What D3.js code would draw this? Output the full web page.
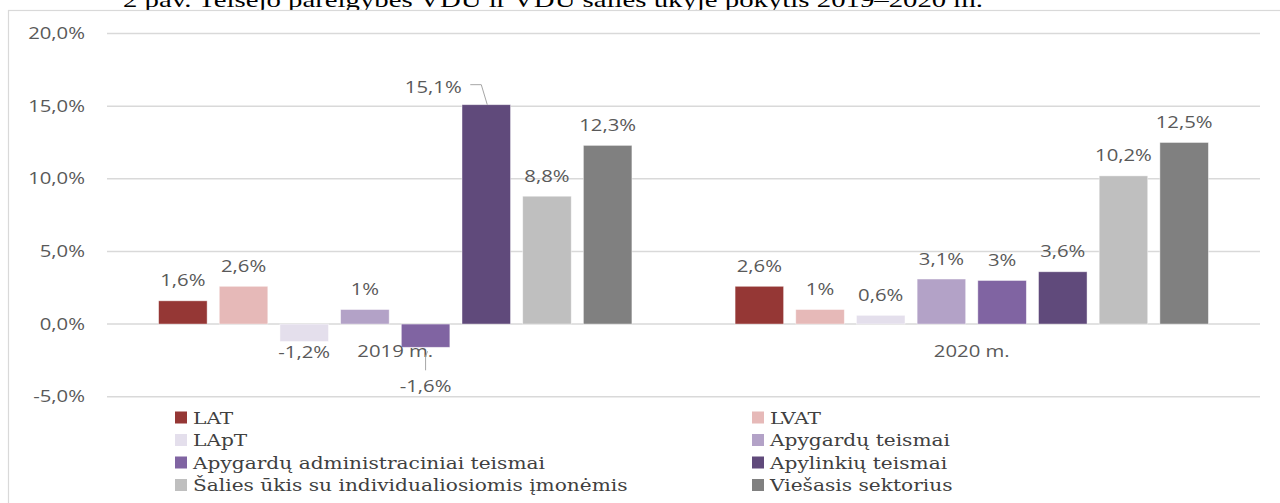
<!DOCTYPE html>
<html>
<head>
<meta charset="utf-8">
<script src="https://cdn.jsdelivr.net/npm/d3@7"></script>
<style>
  html, body { margin: 0; padding: 0; background: #fff; }
  svg { display: block; }
</style>
</head>
<body>
<svg id="chart" width="1280" height="503"></svg>
<script>
// ---- data ----
const titleText = "2 pav. Teisėjo pareigybės VDU ir VDU šalies ūkyje pokytis 2019–2020 m.";
const groups = ["2019 m.", "2020 m."];
const series = [
  "LAT",
  "LVAT",
  "LApT",
  "Apygardų teismai",
  "Apygardų administraciniai teismai",
  "Apylinkių teismai",
  "Šalies ūkis su individualiosiomis įmonėmis",
  "Viešasis sektorius"
];
const values2019 = [1.6, 2.6, -1.2, 1.0, -1.6, 15.1, 8.8, 12.3];
const values2020 = [2.6, 1.0, 0.6, 3.1, 3.0, 3.6, 10.2, 12.5];
const yTicks = [-5, 0, 5, 10, 15, 20];
const seriesColors = ["#953735", "#E6B9B8", "#E4DFEC", "#B3A2C7", "#8064A2", "#604A7B", "#BFBFBF", "#808080"];

// ---- layout ----
const SX = 1.27; // horizontal stretch of the reference's text
const svg = d3.select("#chart");
const plot = { left: 107, right: 1260, top: 33.5, bottom: 396.7 };

const x0 = d3.scaleBand().domain(groups).range([plot.left, plot.right]).paddingInner(0).paddingOuter(0);
const x1 = d3.scaleBand().domain(series).range([0, x0.bandwidth()]).paddingInner(0.2).paddingOuter(0.85);
const y = d3.scaleLinear().domain([-5, 20]).range([plot.bottom, plot.top]);

const rows = [];
groups.forEach((g, gi) => {
  const vals = gi === 0 ? values2019 : values2020;
  series.forEach((s, si) => rows.push({ group: g, gi, series: s, si, value: vals[si] }));
});

function stext(sel, x, yy, str, opt) {
  const g = sel.append("g").attr("transform", `translate(${x},${yy}) scale(${opt.sx || SX},1)`);
  const t = g.append("text")
    .attr("x", 0).attr("y", 0)
    .attr("text-anchor", opt.anchor || "start")
    .attr("font-family", opt.family || "'Open Sans', sans-serif")
    .attr("font-size", opt.size || 16)
    .attr("fill", opt.fill || "#595959")
    .text(str);
  return t;
}

// title (partly hidden above the chart frame)
svg.append("text")
  .attr("x", 123).attr("y", 7)
  .attr("font-family", "'Liberation Serif', 'Times New Roman', serif")
  .attr("font-size", 21)
  .attr("fill", "#000")
  .attr("textLength", 860)
  .attr("lengthAdjust", "spacingAndGlyphs")
  .text(titleText);

// chart frame
svg.append("rect")
  .attr("x", 8.5).attr("y", 10.5).attr("width", 1300).attr("height", 600)
  .attr("fill", "#fff").attr("stroke", "#d9d9d9").attr("stroke-width", 1.2);

// gridlines
svg.append("g").selectAll("line").data(yTicks).join("line")
  .attr("x1", plot.left).attr("x2", plot.right)
  .attr("y1", d => y(d)).attr("y2", d => y(d))
  .attr("stroke", "#d9d9d9").attr("stroke-width", 1.5);

// y axis labels
const fmtTick = d => d3.format(".1f")(d).replace(".", ",").replace("−", "-") + "%";
const yAxisG = svg.append("g");
yTicks.forEach(t => stext(yAxisG, 85, y(t) + 5.5, fmtTick(t), { anchor: "end", size: 16 }));

// bars
svg.append("g").selectAll("rect").data(rows).join("rect")
  .attr("x", d => x0(d.group) + x1(d.series))
  .attr("width", x1.bandwidth())
  .attr("y", d => Math.min(y(d.value), y(0)))
  .attr("height", d => Math.abs(y(d.value) - y(0)))
  .attr("fill", d => seriesColors[d.si])
  .attr("stroke", "#ffffff").attr("stroke-opacity", 0.55).attr("stroke-width", 0.8);

// category labels
const catG = svg.append("g");
groups.forEach(g => stext(catG, x0(g) + x0.bandwidth() / 2, 357, g, { anchor: "middle", size: 16 }));

// data labels
const fmtVal = v => (Number.isInteger(v) ? String(v) : d3.format(".1f")(v).replace("−", "-").replace(".", ",")) + "%";
const lblG = svg.append("g");
const leadG = svg.append("g").attr("fill", "none").attr("stroke", "#a6a6a6").attr("stroke-width", 1);
rows.forEach(d => {
  const cx = x0(d.group) + x1(d.series) + x1.bandwidth() / 2;
  const txt = fmtVal(d.value);
  if (d.gi === 0 && d.si === 5) {
    // label moved to the left with a leader line
    const top = y(d.value);
    const lx = cx - 53, ly = top - 12;
    stext(lblG, lx, ly, txt, { anchor: "middle", size: 16 });
    leadG.append("path").attr("d", `M${cx - 16},${top - 20} H${cx - 5} L${cx + 1},${top}`);
  } else if (d.gi === 0 && d.si === 4) {
    const bot = y(d.value);
    stext(lblG, cx, bot + 45, txt, { anchor: "middle", size: 16 });
    leadG.append("path").attr("d", `M${cx + 2},${bot + 4} L${cx},${bot + 9} V${bot + 23}`);
  } else if (d.value >= 0) {
    stext(lblG, cx, y(d.value) - 14.5, txt, { anchor: "middle", size: 16 });
  } else {
    stext(lblG, cx, y(d.value) + 17, txt, { anchor: "middle", size: 16 });
  }
});

// legend
const legG = svg.append("g");
const legCols = [175, 752];
series.forEach((s, i) => {
  const col = i % 2, row = Math.floor(i / 2);
  const lx = legCols[col];
  const ly = 417.5 + row * 22.5;
  legG.append("rect")
    .attr("x", lx).attr("y", ly - 6).attr("width", 12).attr("height", 12)
    .attr("fill", seriesColors[i]);
  stext(legG, lx + 18, ly + 6, s, { size: 16, family: "'DejaVu Serif', serif", fill: "#404040", sx: 1.26 });
});
</script>
</body>
</html>
